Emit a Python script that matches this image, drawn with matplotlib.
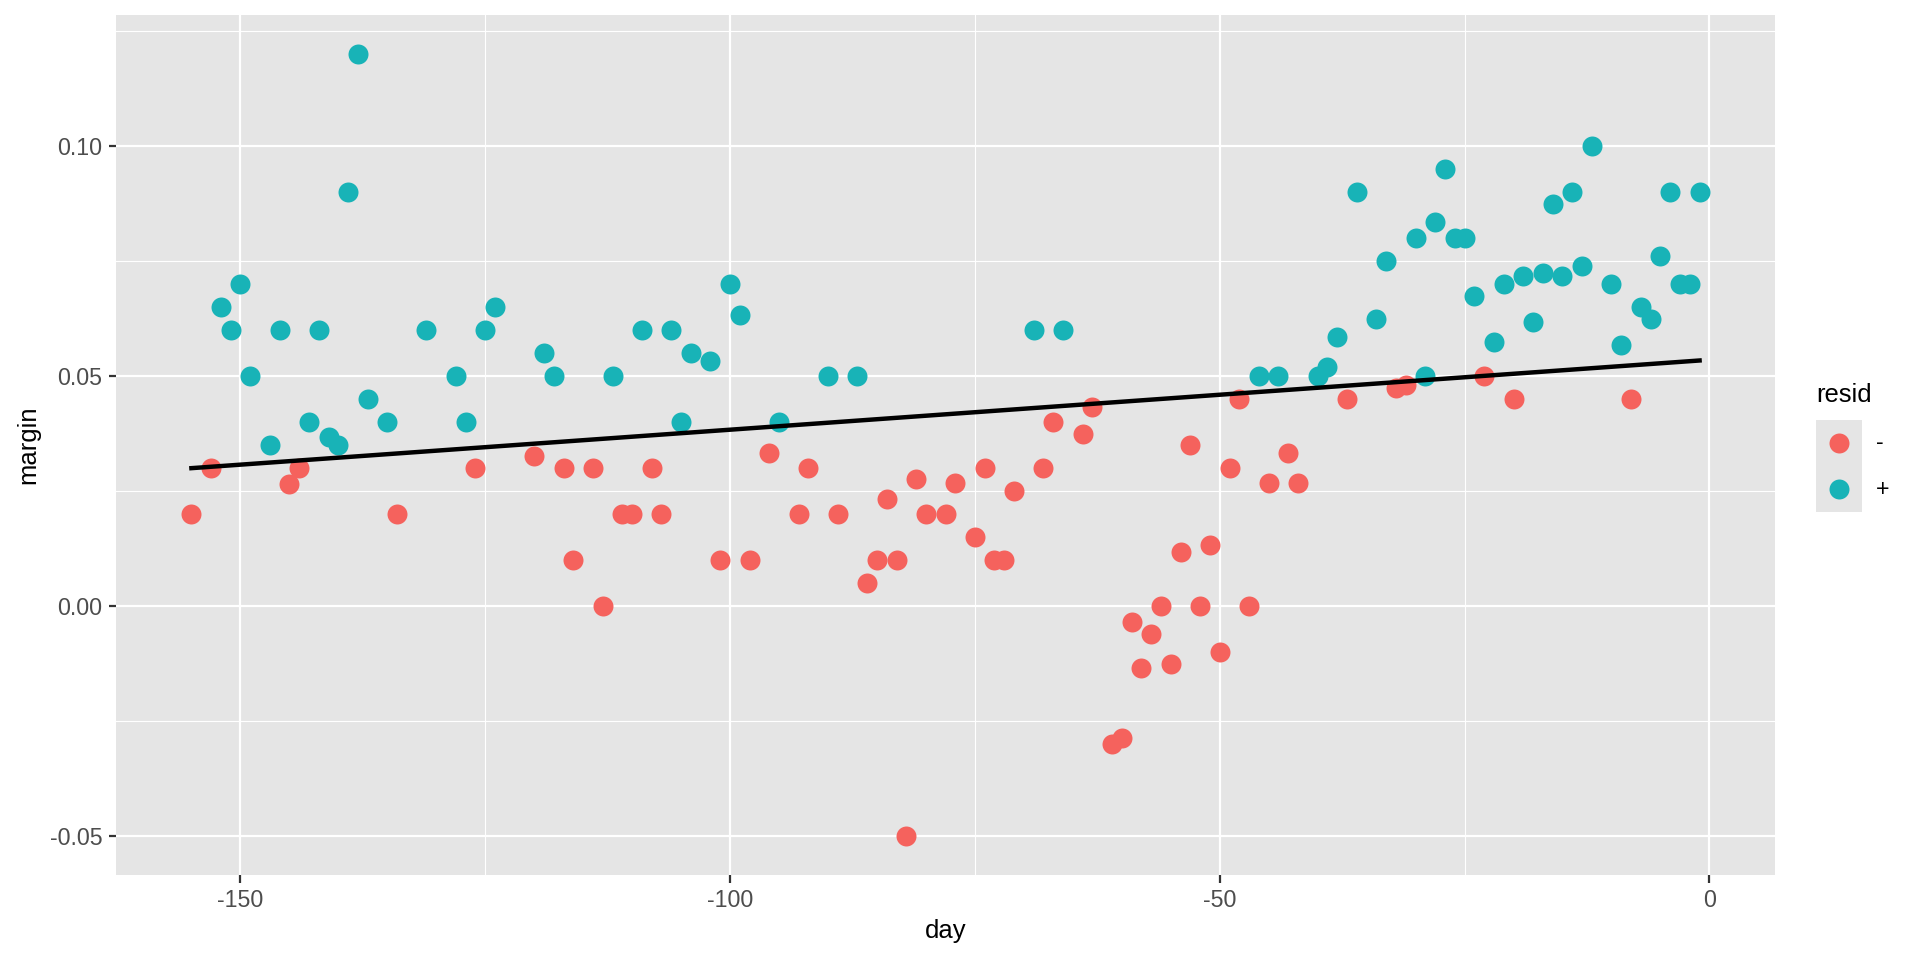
import numpy as np
import matplotlib
matplotlib.use("Agg")
import matplotlib.pyplot as plt
from matplotlib.ticker import FixedLocator, FixedFormatter

# ----------------------------------------------------
# Data: day, margin and sign of residual
# ----------------------------------------------------

day = [
    -155, -153, -152, -151, -150, -149, -147, -146, -145, -144,
    -143, -142, -141, -140, -139, -138, -137, -135, -134, -131,
    -128, -127, -126, -125, -124, -120, -119, -118, -117, -116,
    -114, -113, -112, -111, -110, -109, -108, -107, -106, -105,
    -104, -102, -101, -100, -99, -98, -96, -95, -93, -92,
    -90, -89, -87, -86, -85, -84, -83, -82, -81, -80,
    -78, -77, -75, -74, -73, -72, -71, -69, -68, -67,
    -66, -64, -63, -61, -60, -59, -58, -57, -56, -55,
    -54, -53, -52, -51, -50, -49, -48, -47, -46, -45,
    -44, -43, -42, -40, -39, -38, -37, -36, -34, -33,
    -32, -31, -30, -29, -28, -27, -26, -25, -24, -23,
    -22, -21, -20, -19, -18, -17, -16, -15, -14, -13,
    -12, -10, -9, -8, -7, -6, -5, -4, -3, -2,
    -1,
]

margin = [
    0.02, 0.03, 0.065, 0.06, 0.07, 0.05, 0.035, 0.06, 0.0265, 0.03,
    0.04, 0.06, 0.0367, 0.035, 0.09, 0.12, 0.045, 0.04, 0.02, 0.06,
    0.05, 0.04, 0.03, 0.06, 0.065, 0.0325, 0.055, 0.05, 0.03, 0.01,
    0.03, 0.0, 0.05, 0.02, 0.02, 0.06, 0.03, 0.02, 0.06, 0.04,
    0.055, 0.0533, 0.01, 0.07, 0.0633, 0.01, 0.0333, 0.04, 0.02, 0.03,
    0.05, 0.02, 0.05, 0.005, 0.01, 0.0233, 0.01, -0.05, 0.0275, 0.02,
    0.02, 0.0267, 0.015, 0.03, 0.01, 0.01, 0.025, 0.06, 0.03, 0.04,
    0.06, 0.0375, 0.0433, -0.03, -0.0288, -0.0034, -0.0134, -0.0061, 0.0, -0.0126,
    0.0117, 0.035, 0.0, 0.0133, -0.0101, 0.03, 0.045, 0.0, 0.05, 0.0267,
    0.05, 0.0333, 0.0267, 0.05, 0.052, 0.0584, 0.045, 0.09, 0.0625, 0.075,
    0.0475, 0.048, 0.08, 0.05, 0.0834, 0.095, 0.08, 0.08, 0.0675, 0.05,
    0.0575, 0.07, 0.045, 0.0717, 0.0617, 0.0725, 0.0875, 0.0717, 0.09, 0.074,
    0.10, 0.07, 0.0567, 0.045, 0.065, 0.0625, 0.076, 0.09, 0.07, 0.07,
    0.09,
]

resid = list(
    "--++++++--"
    "++++++++-+"
    "++-++-++--"
    "--+--+--++"
    "++-++--+--"
    "+-+-------"
    "-------+--"
    "+---------"
    "--------+-"
    "+--+++-+++"
    "--+++++++-"
    "++-+++++++"
    "+++-++++++"
    "+"
)

resid_levels = ["-", "+"]
resid_colors = {"-": "#F5625D", "+": "#18B3B7"}

x_ticks = [-150, -100, -50, 0]
y_ticks = [-0.05, 0.00, 0.05, 0.10]
y_tick_labels = ["-0.05", "0.00", "0.05", "0.10"]

# ----------------------------------------------------
# Style (ggplot2 theme_gray look-alike)
# ----------------------------------------------------

plt.rcParams["font.family"] = ["Liberation Sans", "DejaVu Sans"]
plt.rcParams["axes.unicode_minus"] = False

panel_bg = "#E5E5E5"

fig = plt.figure(figsize=(12.8, 6.4), dpi=150)
ax = fig.add_axes([116 / 1920, 1 - 875 / 960, (1775 - 116) / 1920, (875 - 15) / 960])
ax.set_facecolor(panel_bg)
for s in ax.spines.values():
    s.set_visible(False)

day_arr = np.array(day)
margin_arr = np.array(margin)
resid_arr = np.array(resid)

# limits with 5% expansion like ggplot
xr = day_arr.max() - day_arr.min()
yr = margin_arr.max() - margin_arr.min()
ax.set_xlim(day_arr.min() - 0.05 * xr, day_arr.max() + 0.05 * xr)
ax.set_ylim(margin_arr.min() - 0.05 * yr, margin_arr.max() + 0.05 * yr)

ax.xaxis.set_major_locator(FixedLocator(x_ticks))
ax.xaxis.set_minor_locator(FixedLocator([-125, -75, -25]))
ax.yaxis.set_major_locator(FixedLocator(y_ticks))
ax.yaxis.set_major_formatter(FixedFormatter(y_tick_labels))
ax.yaxis.set_minor_locator(FixedLocator([-0.025, 0.025, 0.075, 0.125]))

ax.grid(True, which="major", color="white", linewidth=1.07)
ax.grid(True, which="minor", color="white", linewidth=0.53)
ax.set_axisbelow(True)

ax.tick_params(which="major", length=3.6, width=1.07, color="#333333",
               labelsize=11.2, labelcolor="#4D4D4D", pad=3.0)
ax.tick_params(which="minor", length=0)

# ----------------------------------------------------
# Points and linear fit
# ----------------------------------------------------

for lvl in resid_levels:
    m = resid_arr == lvl
    ax.scatter(day_arr[m], margin_arr[m], s=92, color=resid_colors[lvl],
               linewidths=0, zorder=3)

coef = np.polyfit(day_arr, margin_arr, 1)
xs = np.array([day_arr.min(), day_arr.max()])
ax.plot(xs, np.polyval(coef, xs), color="black", linewidth=2.13, zorder=4)

ax.set_xlabel("day", fontsize=12.3, va="center")
ax.set_ylabel("margin", fontsize=12.3, va="center")
ax.xaxis.set_label_coords(0.5, -(931 - 875) / 860)
ax.yaxis.set_label_coords(-(116 - 28) / 1659, 0.5)

# ----------------------------------------------------
# Legend (drawn like ggplot's)
# ----------------------------------------------------

fig.text(1816 / 1920, 1 - 395 / 960, "resid", fontsize=12.3, va="center", ha="left")

lax = fig.add_axes([1816 / 1920, 1 - 512 / 960, 46 / 1920, 92 / 960])
lax.set_facecolor(panel_bg)
for s in lax.spines.values():
    s.set_visible(False)
lax.set_xticks([])
lax.set_yticks([])
lax.set_xlim(0, 1)
lax.set_ylim(0, 2)
for i, lvl in enumerate(resid_levels):
    lax.scatter([0.5], [1.5 - i], s=92, color=resid_colors[lvl], linewidths=0)
    fig.text(1876 / 1920, 1 - (443 + 46 * i) / 960, lvl, fontsize=11.2,
             va="center", ha="left")

fig.savefig("out.png", dpi=150)
